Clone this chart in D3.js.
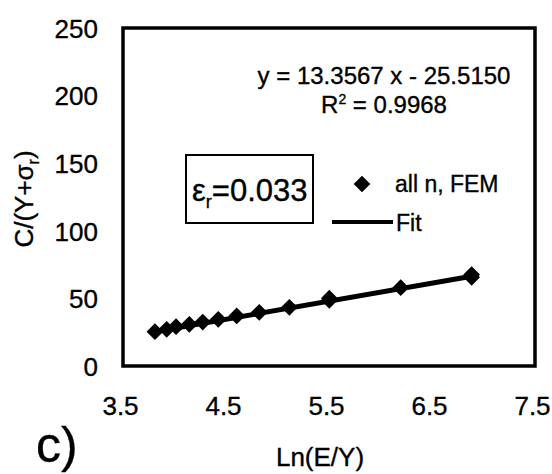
<!DOCTYPE html>
<html>
<head>
<meta charset="utf-8">
<script src="https://cdn.jsdelivr.net/npm/d3@7"></script>
<style>
  body { margin: 0; background: #fff; }
  svg { display: block; font-family: "Liberation Sans", Arial, sans-serif; }
  text { fill: #000; stroke: #000; stroke-width: 0.35px; }
</style>
</head>
<body>
<svg id="chart" width="552" height="474"></svg>
<script>
// values
let lnEY = [3.81, 3.924, 4.015, 4.144, 4.274, 4.425, 4.604, 4.823, 5.115, 5.503, 5.503, 6.196, 6.885, 6.885];
let cY   = [25.4, 27.1, 29.1, 30.8, 32.5, 34.5, 37.0, 39.7, 43.4, 48.6, 50.2, 57.9, 65.6, 67.6];
let xTicks = [3.5, 4.5, 5.5, 6.5, 7.5];
let yTicks = [0, 50, 100, 150, 200, 250];
let slope = 13.3567, intercept = -25.5150;

let margin = {top: 28, right: 17, bottom: 108, left: 123};
let width = 552 - margin.left - margin.right;
let height = 474 - margin.top - margin.bottom;

let svg = d3.select("#chart");
let g = svg.append("g").attr("transform", `translate(${margin.left},${margin.top})`);

let x = d3.scaleLinear().domain([3.5, 7.5]).range([0, width]);
let y = d3.scaleLinear().domain([0, 250]).range([height, 0]);

// axes (labels only, no tick marks)
let xAxis = g.append("g")
  .attr("transform", `translate(0,${height})`)
  .call(d3.axisBottom(x).tickValues(xTicks).tickSize(0).tickPadding(31).tickFormat(d3.format(".1f")));
let yAxis = g.append("g")
  .call(d3.axisLeft(y).tickValues(yTicks).tickSize(0).tickPadding(25).tickFormat(d3.format("d")));
[xAxis, yAxis].forEach(a => {
  a.select(".domain").remove();
  a.selectAll("text").attr("fill", "#000").style("font-size", "26px")
    .style("font-family", "'Liberation Sans', Arial, sans-serif");
});
xAxis.selectAll("text").attr("dx", -3);
yAxis.selectAll("text").attr("dy", "0.36em");

// frame
g.append("rect")
  .attr("x", 0).attr("y", 0).attr("width", width).attr("height", height)
  .attr("fill", "none").attr("stroke", "#000").attr("stroke-width", 3.5);

// fit line
let x0 = d3.min(lnEY), x1 = d3.max(lnEY);
g.append("line")
  .attr("x1", x(x0)).attr("y1", y(slope * x0 + intercept))
  .attr("x2", x(x1)).attr("y2", y(slope * x1 + intercept))
  .attr("stroke", "#000").attr("stroke-width", 5);

// points
let diamond = d3.symbol().type(d3.symbolSquare).size(140);
g.selectAll("path.pt")
  .data(lnEY.map((v, i) => [v, cY[i]]))
  .enter().append("path")
  .attr("class", "pt")
  .attr("d", diamond)
  .attr("transform", d => `translate(${x(d[0])},${y(d[1])}) rotate(45)`)
  .attr("fill", "#000");

// regression text
svg.append("text").attr("x", 384).attr("y", 84).attr("text-anchor", "middle")
  .style("font-size", "24px").text("y = 13.3567 x - 25.5150");
let r2 = svg.append("text").attr("x", 384).attr("y", 113).attr("text-anchor", "middle")
  .style("font-size", "24px");
r2.append("tspan").text("R");
r2.append("tspan").attr("dy", -9).style("font-size", "14px").text("2");
r2.append("tspan").attr("dy", 9).text(" = 0.9968");

// epsilon box
svg.append("rect").attr("x", 186).attr("y", 155).attr("width", 127).attr("height", 68)
  .attr("fill", "none").attr("stroke", "#000").attr("stroke-width", 2);
let eps = svg.append("text").attr("x", 192).attr("y", 201).style("font-size", "31px");
eps.append("tspan").text("ε");
eps.append("tspan").attr("dy", 7).style("font-size", "18px").text("r");
eps.append("tspan").attr("dy", -7).text("=0.033");

// legend
svg.append("path").attr("d", diamond).attr("fill", "#000")
  .attr("transform", "translate(362,184) rotate(45)");
svg.append("text").attr("x", 395).attr("y", 192).style("font-size", "23px").text("all n, FEM");
svg.append("line").attr("x1", 332).attr("x2", 393).attr("y1", 222).attr("y2", 222)
  .attr("stroke", "#000").attr("stroke-width", 4);
svg.append("text").attr("x", 396).attr("y", 231).style("font-size", "23px").text("Fit");

// axis titles
svg.append("text").attr("x", 320).attr("y", 466).attr("text-anchor", "middle")
  .style("font-size", "26px").text("Ln(E/Y)");
let yt = svg.append("text").attr("transform", "translate(33,199) rotate(-90)")
  .attr("text-anchor", "middle").style("font-size", "26px");
yt.append("tspan").text("C/(Y+σ");
yt.append("tspan").attr("dy", 6).style("font-size", "16px").text("r");
yt.append("tspan").attr("dy", -6).text(")");

// panel label
svg.append("text").attr("x", 36).attr("y", 462).style("font-size", "50px").text("c)");
</script>
</body>
</html>
